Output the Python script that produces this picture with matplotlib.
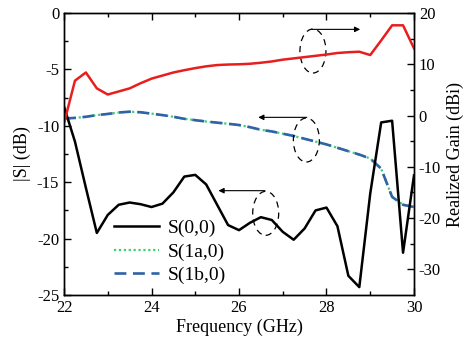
import numpy as np
import matplotlib
matplotlib.use("Agg")
import matplotlib.pyplot as plt
from matplotlib.patches import Ellipse

plt.rcParams['font.family'] = ['Liberation Serif', 'DejaVu Serif']
plt.rcParams['axes.unicode_minus'] = False

freq = [22.0, 22.25, 22.5, 22.75, 23.0, 23.25, 23.5, 23.75, 24.0, 24.25, 24.5, 24.75,
        25.0, 25.25, 25.5, 25.75, 26.0, 26.25, 26.5, 26.75, 27.0, 27.25, 27.5, 27.75,
        28.0, 28.25, 28.5, 28.75, 29.0, 29.25, 29.5, 29.75, 30.0]

s00 = [-8.3, -11.4, -15.5, -19.5, -17.9, -17.0, -16.8, -16.95, -17.2, -16.9, -15.9, -14.5,
       -14.35, -15.2, -17.0, -18.8, -19.25, -18.6, -18.1, -18.35, -19.4, -20.1, -19.1, -17.5,
       -17.25, -18.9, -23.3, -24.3, -16.0, -9.7, -9.55, -21.25, -14.4]

s1a0 = [-9.35, -9.3, -9.2, -9.05, -8.95, -8.82, -8.75, -8.8, -8.92, -9.05, -9.2, -9.38,
        -9.5, -9.62, -9.72, -9.82, -9.93, -10.12, -10.35, -10.5, -10.7, -10.9, -11.15, -11.4,
        -11.65, -11.95, -12.25, -12.55, -12.9, -13.8, -16.3, -17.0, -17.2]

s1b0 = [-9.35, -9.3, -9.2, -9.05, -8.95, -8.82, -8.75, -8.8, -8.92, -9.05, -9.2, -9.38,
        -9.5, -9.62, -9.72, -9.82, -9.93, -10.12, -10.35, -10.5, -10.7, -10.9, -11.15, -11.4,
        -11.65, -11.95, -12.25, -12.55, -12.9, -13.8, -16.3, -17.0, -17.2]

gain = [-1.5, 6.8, 8.4, 5.3, 4.1, 4.7, 5.3, 6.3, 7.2, 7.8, 8.4, 8.85,
        9.25, 9.6, 9.85, 9.95, 10.0, 10.1, 10.3, 10.55, 10.9, 11.15, 11.4, 11.65,
        11.9, 12.2, 12.35, 12.45, 11.8, 14.65, 17.6, 17.6, 13.1]

fig = plt.figure(figsize=(4.69, 3.37), dpi=100)
ax = fig.add_axes([0.1365, 0.1246, 0.7462, 0.8368])
ax2 = ax.twinx()

ax.plot(freq, s00, color='black', lw=1.8, label='S(0,0)', zorder=3)
ax.plot(freq, s1a0, color='#3dcf72', lw=1.6, linestyle=(0, (1, 1.2)), label='S(1a,0)', zorder=2)
ax.plot(freq, s1b0, color='#2f62a6', lw=1.9, linestyle=(0, (4.5, 2.5)), label='S(1b,0)', zorder=2.5)
ax2.plot(freq, gain, color='#e81e1e', lw=1.8)

ax.set_xlim(22, 30)
ax.set_ylim(-25, 0)
ax2.set_ylim(-35, 20)

ax.set_xticks([22, 24, 26, 28, 30])
ax.set_xticks([23, 25, 27, 29], minor=True)
ax.set_yticks([0, -5, -10, -15, -20, -25])
ax.set_yticks([-2.5, -7.5, -12.5, -17.5, -22.5], minor=True)
ax2.set_yticks([20, 10, 0, -10, -20, -30])
ax2.set_yticks([15, 5, -5, -15, -25], minor=True)

ax.tick_params(axis='x', which='both', direction='in', top=True, labelsize=12)
ax.tick_params(axis='y', which='both', direction='in', right=False, labelsize=12)
ax.tick_params(which='major', length=5, width=1)
ax.tick_params(which='minor', length=3, width=1)
ax2.tick_params(axis='y', which='both', direction='in', labelsize=12)
ax2.tick_params(which='major', length=5, width=1)
ax2.tick_params(which='minor', length=3, width=1)

for a in (ax, ax2):
    for s in a.spines.values():
        s.set_linewidth(1.0)

ax.set_xlabel('Frequency (GHz)', fontsize=13, labelpad=2)
ax.set_ylabel('|S| (dB)', fontsize=13, labelpad=4)
ax2.set_ylabel('Realized Gain (dBi)', fontsize=13, labelpad=4)

# annotations: dashed ellipses and arrows (data coords of left axis)
ells = [(27.69, -3.37), (27.54, -11.26), (26.61, -17.76)]
for (cx, cy) in ells:
    e = Ellipse((cx, cy), 0.594, 3.9, fill=False, edgecolor='black', lw=0.9,
                linestyle=(0, (5, 4)), zorder=4)
    ax.add_patch(e)

arrows = [((27.66, -1.45), (28.77, -1.45)),
          ((27.55, -9.25), (26.44, -9.25)),
          ((26.59, -15.75), (25.53, -15.75))]
for (start, end) in arrows:
    ax.annotate('', xy=end, xytext=start,
                arrowprops=dict(arrowstyle='-|>', color='black', lw=0.8,
                                mutation_scale=8, shrinkA=0, shrinkB=0), zorder=4)

leg = ax.legend(loc='lower left', bbox_to_anchor=(0.105, -0.01), frameon=False,
                fontsize=14, handlelength=2.3, handletextpad=0.45, labelspacing=0.3,
                borderaxespad=0.3)

ax2.set_zorder(ax.get_zorder() + 1)

fig.savefig('out.png', dpi=100)
